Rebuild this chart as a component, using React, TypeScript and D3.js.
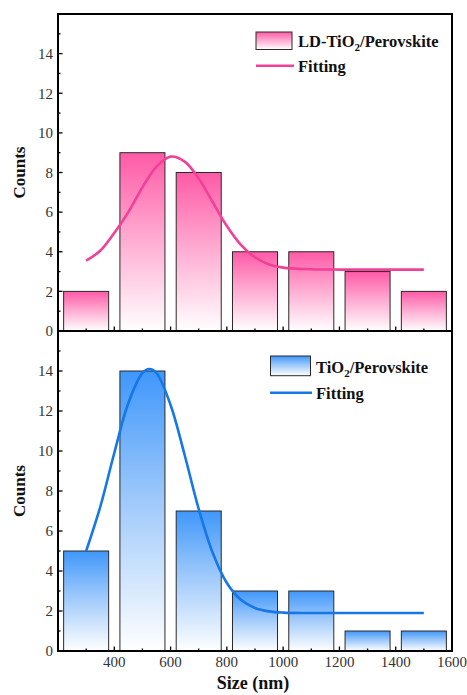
import React from "react";
import * as d3 from "d3";

const binCenters = [300, 500, 700, 900, 1100, 1300, 1500];
const countsLD = [2, 9, 8, 4, 4, 3, 2];
const countsTiO2 = [5, 14, 7, 3, 3, 1, 1];

const fitLDx = [300, 350, 400, 450, 500, 550, 600, 650, 700, 750, 800, 850, 900, 950, 1000, 1100, 1200, 1300, 1400, 1500];
const fitLDy = [3.55, 4.05, 4.95, 6.0, 7.25, 8.3, 8.8, 8.55, 7.7, 6.5, 5.3, 4.35, 3.72, 3.36, 3.2, 3.12, 3.1, 3.1, 3.1, 3.1];
const fitTx = [300, 350, 400, 450, 500, 525, 550, 600, 650, 700, 750, 800, 850, 900, 950, 1000, 1100, 1200, 1300, 1400, 1500];
const fitTy = [5.0, 7.2, 9.9, 12.4, 13.9, 14.1, 13.9, 12.3, 9.8, 7.1, 4.9, 3.4, 2.56, 2.15, 1.98, 1.92, 1.9, 1.9, 1.9, 1.9, 1.9];

const xTicks = [400, 600, 800, 1000, 1200, 1400, 1600];
const yTicks = [0, 2, 4, 6, 8, 10, 12, 14];

const FONT = "Liberation Serif";

const L = 58, R = 452;
const x = d3.scaleLinear().domain([200, 1600]).range([L, R]);

function Panel({ top, bottom, counts, fx, fy, gradId, lineColor, showX }: any) {
  const y = d3.scaleLinear().domain([0, 16]).range([bottom, top]);
  const bw = x(360) - x(200);
  const line = d3.line<number>().x((d, i) => x(fx[i])).y((d) => y(d)).curve(d3.curveCatmullRom);
  const minorY = d3.range(1, 16, 1);
  const minorX = d3.range(300, 1600, 100);
  return (
    <g>
      {counts.map((c: number, i: number) => (
        <rect key={i} x={x(binCenters[i]) - bw / 2} y={y(c)} width={bw} height={y(0) - y(c)}
          fill={`url(#${gradId})`} stroke="#2a2a2a" strokeWidth={1} />
      ))}
      <path d={line(fy) || ""} fill="none" stroke={lineColor} strokeWidth={2.6} />
      {minorY.map((v) => (
        <line key={"y" + v} x1={L} x2={L + (v % 2 === 0 ? 4.5 : 2.5)} y1={y(v)} y2={y(v)} stroke="#000" strokeWidth={1.3} />
      ))}
      {minorX.map((v) => (
        <line key={"x" + v} x1={x(v)} x2={x(v)} y1={bottom} y2={bottom - (v % 200 === 0 ? 4.5 : 2.5)} stroke="#000" strokeWidth={1.3} />
      ))}
      <rect x={L} y={top} width={R - L} height={bottom - top} fill="none" stroke="#000" strokeWidth={2} />
      {yTicks.map((v) => (
        <text key={"yl" + v} x={L - 5} y={y(v)} dy="0.35em" textAnchor="end" fontSize={15} style={{ fontFamily: FONT }} fill="#333">{v}</text>
      ))}
      {showX && xTicks.map((v) => (
        <text key={"xl" + v} x={x(v)} y={bottom + 16} textAnchor="middle" fontSize={15} style={{ fontFamily: FONT }} fill="#333">{v}</text>
      ))}
      <text transform={`translate(25,${(top + bottom) / 2}) rotate(-90)`} textAnchor="middle" fontSize={17} fontWeight="bold" style={{ fontFamily: FONT }} fill="#111">Counts</text>
    </g>
  );
}

export default function App() {
  return (
    <svg width={467} height={695} style={{ position: "absolute", left: 0, top: 0, background: "#fff", fontFamily: FONT }}>
      <defs>
        <linearGradient id="gPink" x1="0" y1="0" x2="0" y2="1">
          <stop offset="0" stopColor="#ff5aa6" />
          <stop offset="0.45" stopColor="#ffa6cf" />
          <stop offset="1" stopColor="#ffffff" />
        </linearGradient>
        <linearGradient id="gBlue" x1="0" y1="0" x2="0" y2="1">
          <stop offset="0" stopColor="#3f97fb" />
          <stop offset="0.45" stopColor="#9cc8fb" />
          <stop offset="1" stopColor="#ffffff" />
        </linearGradient>
      </defs>
      <Panel top={14} bottom={331} counts={countsLD} fx={fitLDx} fy={fitLDy} gradId="gPink" lineColor="#f23f98" showX={false} />
      <Panel top={331} bottom={651} counts={countsTiO2} fx={fitTx} fy={fitTy} gradId="gBlue" lineColor="#1677e6" showX={true} />
      <rect x={256} y={32} width={36} height={17.5} fill="url(#gPink)" stroke="#2a2a2a" strokeWidth={1} />
      <text x={298} y={46.5} fontSize={16.5} fontWeight="bold" style={{ fontFamily: FONT }} fill="#111">
        LD-TiO<tspan fontSize={11} dy={4}>2</tspan><tspan dy={-4}>/Perovskite</tspan>
      </text>
      <line x1={256} x2={294} y1={65.7} y2={65.7} stroke="#f23f98" strokeWidth={2.6} />
      <text x={298} y={72} fontSize={16.5} fontWeight="bold" style={{ fontFamily: FONT }} fill="#111">Fitting</text>
      <rect x={270.5} y={356} width={40} height={19.7} fill="url(#gBlue)" stroke="#2a2a2a" strokeWidth={1} />
      <text x={316} y={372.5} fontSize={16.5} fontWeight="bold" style={{ fontFamily: FONT }} fill="#111">
        TiO<tspan fontSize={11} dy={4}>2</tspan><tspan dy={-4}>/Perovskite</tspan>
      </text>
      <line x1={270} x2={312} y1={392.7} y2={392.7} stroke="#1677e6" strokeWidth={2.6} />
      <text x={316} y={398.5} fontSize={16.5} fontWeight="bold" style={{ fontFamily: FONT }} fill="#111">Fitting</text>
      <text x={253} y={689} textAnchor="middle" fontSize={18} fontWeight="bold" style={{ fontFamily: FONT }} fill="#111">Size (nm)</text>
    </svg>
  );
}
